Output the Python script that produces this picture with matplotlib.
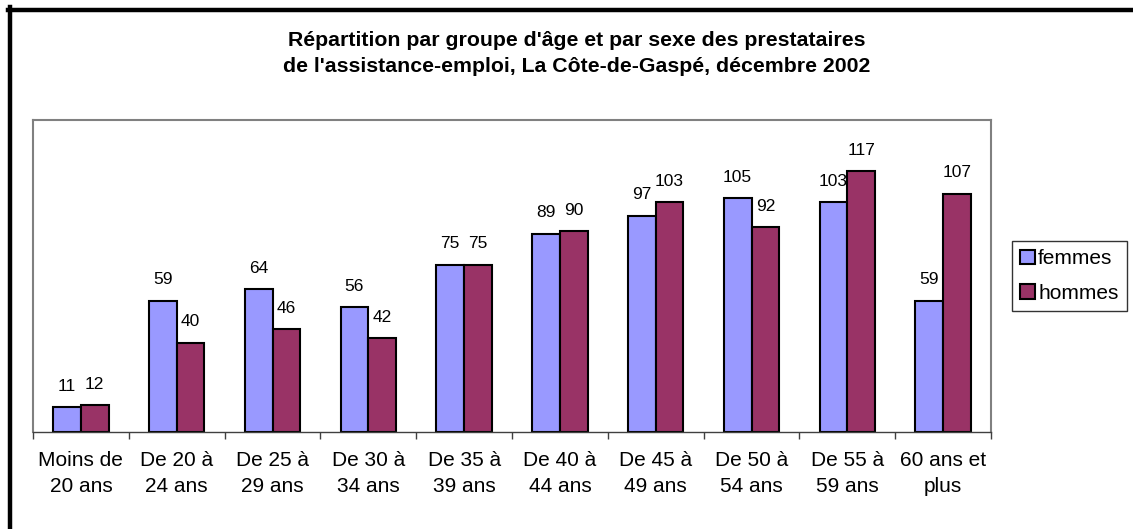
import matplotlib
matplotlib.use('Agg')
from matplotlib import pyplot as plt
from matplotlib.lines import Line2D
import numpy as np

plt.rcParams['font.family'] = ['Liberation Sans', 'DejaVu Sans']

groupes = ['Moins de\n20 ans', 'De 20 à\n24 ans', 'De 25 à\n29 ans', 'De 30 à\n34 ans',
           'De 35 à\n39 ans', 'De 40 à\n44 ans', 'De 45 à\n49 ans', 'De 50 à\n54 ans',
           'De 55 à\n59 ans', '60 ans et\nplus']
femmes = [11, 59, 64, 56, 75, 89, 97, 105, 103, 59]
hommes = [12, 40, 46, 42, 75, 90, 103, 92, 117, 107]

W, H = 1133, 529
fig = plt.figure(figsize=(W / 100, H / 100), dpi=100)
ax = fig.add_axes([33 / W, 1 - 432 / H, (991 - 33) / W, (432 - 120) / H])

x = np.arange(len(groupes))
w = 0.29
b1 = ax.bar(x - w / 2, femmes, w, color='#9999FF', edgecolor='black', linewidth=1.5, label='femmes')
b2 = ax.bar(x + w / 2, hommes, w, color='#993366', edgecolor='black', linewidth=1.5, label='hommes')

for bars, vals in ((b1, femmes), (b2, hommes)):
    for r, v in zip(bars, vals):
        ax.text(r.get_x() + r.get_width() / 2, v + 6, str(v), ha='center', va='bottom', fontsize=12.5)

ax.set_xlim(-0.5, len(groupes) - 0.5)
ax.set_ylim(0, 140)
ax.set_yticks([])
ax.set_xticks(x)
ax.set_xticklabels(groupes, fontsize=15, linespacing=1.45)
ax.set_xticks(np.arange(len(groupes) + 1) - 0.5, minor=True)
ax.tick_params(axis='x', which='major', length=0, pad=14)
ax.tick_params(axis='x', which='minor', length=5, width=1, color='#404040')

for s in ('top', 'right', 'left'):
    ax.spines[s].set_color('#808080')
    ax.spines[s].set_linewidth(1.5)
ax.spines['bottom'].set_color('#404040')
ax.spines['bottom'].set_linewidth(1)

fig.text(577 / W, 1 - 53.5 / H,
         "Répartition par groupe d'âge et par sexe des prestataires\n"
         "de l'assistance-emploi, La Côte-de-Gaspé, décembre 2002",
         ha='center', va='center', fontsize=15.3, fontweight='bold', linespacing=1.5)

leg = fig.legend(handles=[b1, b2], loc='center left', bbox_to_anchor=(1012 / W, 1 - 276 / H),
                 fancybox=False, edgecolor='black', fontsize=15, handlelength=0.7,
                 handleheight=0.7, handletextpad=0.15, borderpad=0.4, labelspacing=0.75,
                 borderaxespad=0)
leg.get_frame().set_linewidth(1)

# cadre noir (haut et gauche)
fig.add_artist(Line2D([10 / W, 10 / W], [0, 1 - 7 / H], color='black', linewidth=3.2,
                      transform=fig.transFigure))
fig.add_artist(Line2D([8 / W, 1], [1 - 9.5 / H, 1 - 9.5 / H], color='black', linewidth=3.2,
                      transform=fig.transFigure))

fig.savefig('out.png', dpi=100)
